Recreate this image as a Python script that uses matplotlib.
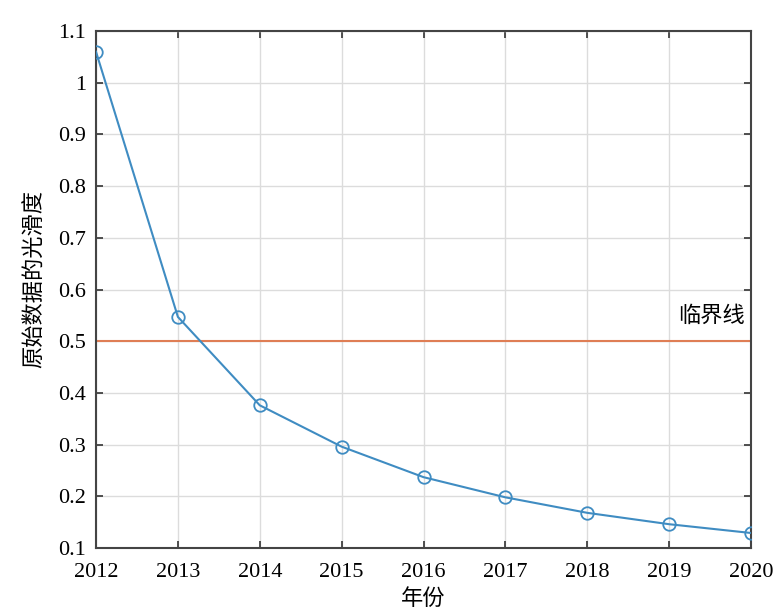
import matplotlib.pyplot as plt
from matplotlib.ticker import FuncFormatter

plt.rcParams['font.family'] = ['Liberation Serif', 'Noto Sans CJK SC']

years = [2012, 2013, 2014, 2015, 2016, 2017, 2018, 2019, 2020]
smoothness = [1.06, 0.547, 0.376, 0.296, 0.237, 0.198, 0.168, 0.146, 0.129]
threshold = 0.5
y_ticks = [0.1, 0.2, 0.3, 0.4, 0.5, 0.6, 0.7, 0.8, 0.9, 1.0, 1.1]

fig = plt.figure(figsize=(7.78, 6.14), dpi=100)
ax = fig.add_axes([0.1234, 0.1075, 0.842, 0.842])

ax.plot(years, smoothness, color='#3f8cc2', linewidth=1.5, marker='o',
        markersize=9, markerfacecolor='none', markeredgewidth=1.3, zorder=3)
ax.axhline(threshold, color='#df7e55', linewidth=1.5, zorder=2)
ax.text(2019.92, 0.547, '临界线', ha='right', va='center', fontsize=16)

ax.set_xlim(years[0], years[-1])
ax.set_ylim(y_ticks[0], y_ticks[-1])
ax.set_xticks(years)
ax.set_yticks(y_ticks)
ax.yaxis.set_major_formatter(FuncFormatter(lambda v, p: '%g' % round(v, 2)))
ax.grid(True, color='#dcdcdc', linewidth=1)
ax.set_axisbelow(True)
ax.tick_params(direction='in', top=True, right=True, length=5, width=1.2,
               labelsize=16, colors='#333333', labelcolor='black')
ax.tick_params(axis='x', pad=11)
ax.tick_params(axis='y', pad=7)
for s in ax.spines.values():
    s.set_color('#444444')
    s.set_linewidth(1.5)

ax.set_xlabel('年份', fontsize=16, labelpad=5)
ax.set_ylabel('原始数据的光滑度', fontsize=16, labelpad=9)
ax.yaxis.label.set_y(0.52)

fig.savefig('out.png', dpi=100)
